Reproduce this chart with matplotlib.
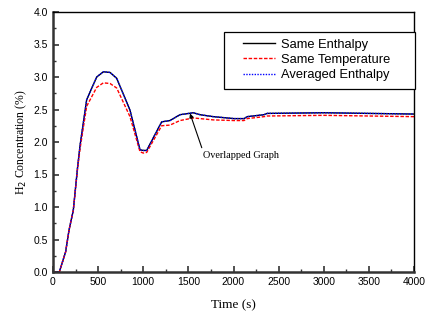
import matplotlib
matplotlib.use("Agg")
import matplotlib.pyplot as plt
from matplotlib.ticker import MultipleLocator, FormatStrFormatter
from matplotlib.patches import Rectangle

time_s = [0, 70, 140, 177, 225, 273, 300, 373, 484, 558, 632, 706, 853, 964, 1000, 1038,
          1204, 1296, 1407, 1555, 1629, 1776, 2006, 2116, 2153, 2338, 2374, 3003, 4000]
same_enthalpy = [0.0, 0.0, 0.31, 0.64, 0.95, 1.62, 1.95, 2.65, 3.00, 3.08, 3.07, 2.98, 2.49, 1.88, 1.87, 1.87,
                 2.31, 2.33, 2.42, 2.45, 2.42, 2.39, 2.36, 2.36, 2.39, 2.42, 2.44, 2.45, 2.43]
same_temperature = [0.0, 0.0, 0.31, 0.64, 0.95, 1.60, 1.90, 2.55, 2.84, 2.91, 2.90, 2.83, 2.39, 1.85, 1.83, 1.84,
                    2.25, 2.26, 2.33, 2.37, 2.36, 2.34, 2.33, 2.33, 2.36, 2.39, 2.40, 2.41, 2.39]
averaged_enthalpy = [0.0, 0.0, 0.31, 0.64, 0.95, 1.62, 1.95, 2.65, 3.00, 3.08, 3.07, 2.98, 2.49, 1.88, 1.87, 1.87,
                     2.31, 2.33, 2.42, 2.45, 2.42, 2.39, 2.36, 2.36, 2.39, 2.42, 2.44, 2.45, 2.43]

W, H = 428, 320
fig = plt.figure(figsize=(W/100, H/100), dpi=100)
ax = fig.add_axes([53/W, 1-272/H, (414-53)/W, (272-12)/H])

ax.plot(time_s, same_enthalpy, color="black", lw=1.0, ls="-", label="Same Enthalpy")
ax.plot(time_s, same_temperature, color="red", lw=1.0, ls=(0, (2.5, 1.2)), label="Same Temperature")
ax.plot(time_s, averaged_enthalpy, color="blue", lw=1.0, ls=(0, (1, 1)), label="Averaged Enthalpy")

ax.set_xlim(0, 4000)
ax.set_ylim(0, 4.0)
ax.xaxis.set_major_locator(MultipleLocator(500))
ax.xaxis.set_minor_locator(MultipleLocator(250))
ax.yaxis.set_major_locator(MultipleLocator(0.5))
ax.yaxis.set_minor_locator(MultipleLocator(0.25))
ax.yaxis.set_major_formatter(FormatStrFormatter("%.1f"))
ax.tick_params(which="both", direction="in", top=False, right=False, colors="#333333",
               labelcolor="black", labelsize=7.5)
ax.tick_params(which="major", length=4, width=1.2)
ax.tick_params(which="minor", length=2.5, width=1.0)
for lab in ax.get_xticklabels() + ax.get_yticklabels():
    lab.set_family("Liberation Sans")

for s in ["left", "bottom"]:
    ax.spines[s].set_linewidth(1.8)
    ax.spines[s].set_color("#333333")
for s in ["top", "right"]:
    ax.spines[s].set_linewidth(1.0)
    ax.spines[s].set_color("black")

ax.set_xlabel("Time (s)", family="Liberation Serif", fontsize=9.5, labelpad=9)
ax.set_ylabel("H$_2$ Concentration (%)", family="Liberation Serif", fontsize=8.5, labelpad=3)

# legend frame
box = Rectangle((224/W, 1-89/H), (415-224)/W, (89-31.7)/H, transform=fig.transFigure,
                facecolor="white", edgecolor="black", lw=0.9, zorder=4, clip_on=False)
ax.add_patch(box)
leg = ax.legend(loc="upper left", bbox_to_anchor=(242.7/W, 1-38.5/H), bbox_transform=fig.transFigure,
                frameon=False, prop={"family": "Liberation Sans", "size": 9.3},
                handlelength=2.48, handletextpad=0.47, labelspacing=0.25, borderpad=0, borderaxespad=0)
leg.set_zorder(5)

ax.annotate("Overlapped Graph", xy=(1518, 2.44), xytext=(1659, 1.80),
            family="Liberation Serif", fontsize=7.4,
            arrowprops=dict(arrowstyle="-|>", color="black", lw=0.8, mutation_scale=6,
                            shrinkA=0, shrinkB=0, relpos=(0, 1)),
            va="center", ha="left")

fig.savefig("out.png", dpi=100)
